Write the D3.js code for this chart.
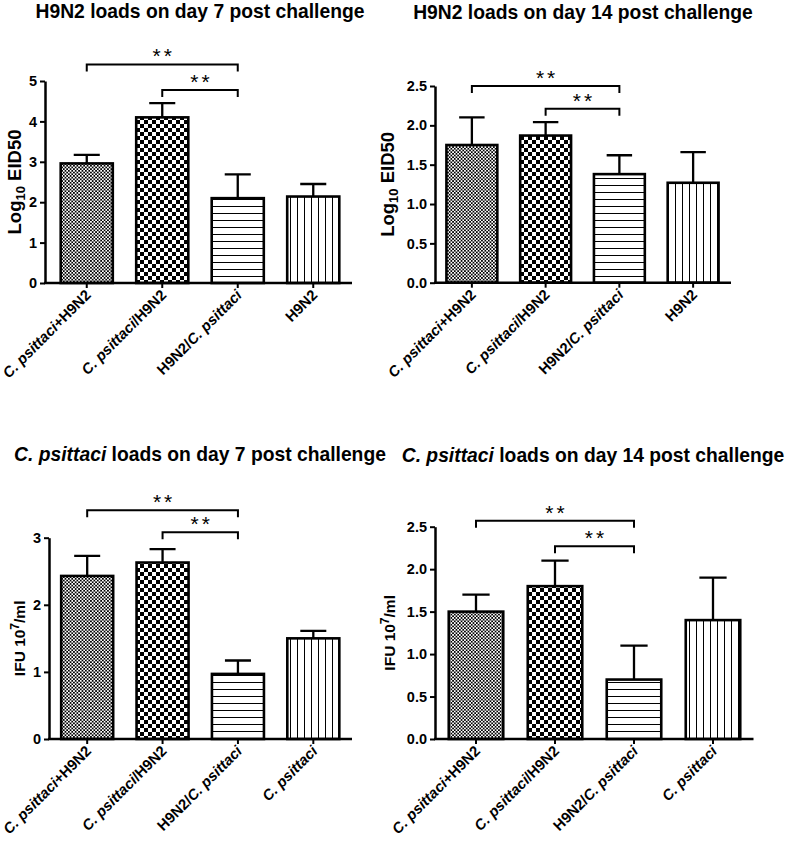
<!DOCTYPE html>
<html>
<head>
<meta charset="utf-8">
<script src="https://cdn.jsdelivr.net/npm/d3@7"></script>
<style>
  body { margin: 0; background: #fff; }
  svg { display: block; font-family: "Liberation Sans", Arial, sans-serif; }
</style>
</head>
<body>
<svg id="viz"></svg>
<script>
// groups on the x axis
const h9n2Groups = ["C. psittaci+H9N2", "C. psittaci/H9N2", "H9N2/C. psittaci", "H9N2"];
const cpsGroups = ["C. psittaci+H9N2", "C. psittaci/H9N2", "H9N2/C. psittaci", "C. psittaci"];

// means and upper error (SEM)
const h9n2Day7 = [2.96, 4.10, 2.10, 2.14];
const h9n2Day7Err = [0.21, 0.35, 0.59, 0.31];
const h9n2Day14 = [1.75, 1.87, 1.38, 1.27];
const h9n2Day14Err = [0.35, 0.17, 0.24, 0.39];
const cpsDay7 = [2.43, 2.63, 0.97, 1.50];
const cpsDay7Err = [0.30, 0.20, 0.20, 0.11];
const cpsDay14 = [1.50, 1.80, 0.70, 1.40];
const cpsDay14Err = [0.20, 0.30, 0.40, 0.50];

// y ticks
const ticksTo5 = [0, 1, 2, 3, 4, 5];
const ticksTo3 = [0, 1, 2, 3];
const ticksTo25 = [0, 0.5, 1.0, 1.5, 2.0, 2.5];

// significance brackets: compared groups, bracket level in axis units
const sigPairs = [[0, 2], [1, 2]];
const sigText = "**";
const h9n2Day7Sig = [5.41, 4.78];
const h9n2Day14Sig = [2.50, 2.21];
const cpsDay7Sig = [3.41, 3.08];
const cpsDay14Sig = [2.57, 2.27];

// titles and axis titles ([normal, shifted, normal])
const titles = [
  "H9N2 loads on day 7 post challenge",
  "H9N2 loads on day 14 post challenge",
  "C. psittaci loads on day 7 post challenge",
  "C. psittaci loads on day 14 post challenge"
];
const h9n2Unit = ["Log", "10", " EID50"];
const cpsUnit = ["IFU 10", "7", "/ml"];

document.addEventListener("DOMContentLoaded", function () {
  const width = 787, height = 848;

  const svg = d3.select("#viz")
      .attr("viewBox", `0 0 ${width} ${height}`)
      .attr("width", width)
      .attr("height", height);

  // fill patterns
  const defs = svg.append("defs");
  function pattern(id, w, h) {
    const p = defs.append("pattern").attr("id", id)
        .attr("patternUnits", "userSpaceOnUse")
        .attr("width", w).attr("height", h);
    p.append("rect").attr("width", w).attr("height", h).attr("fill", "#fff");
    return p;
  }
  const fine = pattern("fineCheck", 3.4, 3.4);
  fine.append("rect").attr("width", 1.7).attr("height", 1.7).attr("fill", "#000");
  fine.append("rect").attr("x", 1.7).attr("y", 1.7).attr("width", 1.7).attr("height", 1.7).attr("fill", "#000");
  const coarse = pattern("coarseCheck", 8, 8);
  coarse.append("rect").attr("width", 4).attr("height", 4).attr("fill", "#000");
  coarse.append("rect").attr("x", 4).attr("y", 4).attr("width", 4).attr("height", 4).attr("fill", "#000");
  pattern("hLines", 8, 7).append("rect").attr("y", 3).attr("width", 8).attr("height", 1).attr("fill", "#000");
  pattern("vLines", 7, 8).append("rect").attr("x", 3).attr("width", 1).attr("height", 8).attr("fill", "#000");
  const fills = ["fineCheck", "coarseCheck", "hLines", "vLines"];

  // layout of the four panels
  const panels = [
    { title: titles[0], groups: h9n2Groups, means: h9n2Day7, errs: h9n2Day7Err, ticks: ticksTo5, fmt: d3.format("d"),
      sig: h9n2Day7Sig, unit: h9n2Unit, sup: false,
      axisX: 45, xRange: [49, 351], yRange: [283, 81], titleX: 200, titleY: 18, unitX: 21 },
    { title: titles[1], groups: h9n2Groups, means: h9n2Day14, errs: h9n2Day14Err, ticks: ticksTo25, fmt: d3.format(".1f"),
      sig: h9n2Day14Sig, unit: h9n2Unit, sup: false,
      axisX: 435, xRange: [435, 730], yRange: [282.7, 86], titleX: 583, titleY: 19, unitX: 394 },
    { title: titles[2], groups: cpsGroups, means: cpsDay7, errs: cpsDay7Err, ticks: ticksTo3, fmt: d3.format("d"),
      sig: cpsDay7Sig, unit: cpsUnit, sup: true,
      axisX: 49, xRange: [49.5, 351], yRange: [739, 537.7], titleX: 200, titleY: 461, unitX: 25 },
    { title: titles[3], groups: cpsGroups, means: cpsDay14, errs: cpsDay14Err, ticks: ticksTo25, fmt: d3.format(".1f"),
      sig: cpsDay14Sig, unit: cpsUnit, sup: true,
      axisX: 435, xRange: [436.5, 752.5], yRange: [739, 526.7], titleX: 593, titleY: 462, unitX: 395 }
  ];

  // text with the species name in italics
  function richText(sel, str) {
    const parts = str.split(/(C\. psittaci)/).filter(s => s.length);
    sel.selectAll("tspan").data(parts).join("tspan")
        .style("font-style", s => s === "C. psittaci" ? "italic" : "normal")
        .text(s => s);
  }

  panels.forEach(p => {
    const g = svg.append("g");
    const x = d3.scaleBand().domain(p.groups).range(p.xRange)
        .paddingInner(0.31).paddingOuter(0.155);
    const y = d3.scaleLinear().domain([0, d3.max(p.ticks)]).range(p.yRange);
    const rows = p.groups.map((name, i) => ({ name, i, mean: p.means[i], err: p.errs[i] }));
    const cx = name => x(name) + x.bandwidth() / 2;
    const y0 = y(0);

    // bars
    g.append("g").selectAll("rect").data(rows).join("rect")
        .attr("x", d => x(d.name))
        .attr("y", d => y(d.mean))
        .attr("width", x.bandwidth())
        .attr("height", d => y0 - y(d.mean))
        .attr("fill", d => `url(#${fills[d.i]})`)
        .attr("stroke", "#000")
        .attr("stroke-width", 2.6);

    // error bars (upper only)
    const cap = x.bandwidth() / 4;
    g.append("g").selectAll("path").data(rows).join("path")
        .attr("d", d => `M${cx(d.name)},${y(d.mean)}V${y(d.mean + d.err)}` +
                        `M${cx(d.name) - cap},${y(d.mean + d.err)}H${cx(d.name) + cap}`)
        .attr("fill", "none")
        .attr("stroke", "#000")
        .attr("stroke-width", 2.3);

    // y axis
    const yAxis = g.append("g")
        .attr("transform", `translate(${p.axisX},0)`)
        .call(d3.axisLeft(y).tickValues(p.ticks).tickFormat(p.fmt)
          .tickSize(5).tickSizeOuter(0).tickPadding(3));
    yAxis.select(".domain").attr("stroke-width", 2.5);
    yAxis.selectAll(".tick line").attr("stroke-width", 2);
    yAxis.selectAll("text")
        .attr("fill", "#000")
        .style("font", "bold 14.5px 'Liberation Sans', Arial, sans-serif");

    // x axis
    g.append("line")
        .attr("x1", p.axisX - 1).attr("x2", p.xRange[1] + 1)
        .attr("y1", y0).attr("y2", y0)
        .attr("stroke", "#000").attr("stroke-width", 2.5);
    g.append("g").selectAll("line").data(rows).join("line")
        .attr("x1", d => cx(d.name)).attr("x2", d => cx(d.name))
        .attr("y1", y0).attr("y2", y0 + 5)
        .attr("stroke", "#000").attr("stroke-width", 2);
    g.append("g").selectAll("text").data(rows).join("text")
        .attr("transform", d => `translate(${cx(d.name) + 5},${y0 + 13}) rotate(-45)`)
        .attr("text-anchor", "end")
        .style("font", "bold 14.8px 'Liberation Sans', Arial, sans-serif")
        .each(function (d) { richText(d3.select(this), d.name); });

    // significance brackets
    const sig = sigPairs.map((pair, k) => ({ a: p.groups[pair[0]], b: p.groups[pair[1]], level: p.sig[k] }));
    g.append("g").selectAll("path").data(sig).join("path")
        .attr("d", d => `M${cx(d.a)},${y(d.level) + 7}V${y(d.level)}H${cx(d.b)}V${y(d.level) + 7}`)
        .attr("fill", "none")
        .attr("stroke", "#000")
        .attr("stroke-width", 2);
    g.append("g").selectAll("text").data(sig).join("text")
        .attr("x", d => (cx(d.a) + cx(d.b)) / 2 + 1.5)
        .attr("y", d => y(d.level) - 1)
        .attr("text-anchor", "middle")
        .attr("letter-spacing", 3)
        .style("font", "21px 'Liberation Sans', Arial, sans-serif")
        .text(sigText);

    // title
    g.append("text")
        .attr("x", p.titleX).attr("y", p.titleY)
        .attr("text-anchor", "middle")
        .style("font", "bold 19.3px 'Liberation Sans', Arial, sans-serif")
        .call(richText, p.title);

    // y axis title with sub/superscript
    const shift = p.sup ? -6 : 4;
    const unit = g.append("text")
        .attr("transform", `translate(${p.unitX},${(p.yRange[0] + p.yRange[1]) / 2}) rotate(-90)`)
        .attr("text-anchor", "middle")
        .style("font", `bold ${p.sup ? 15.5 : 18.5}px 'Liberation Sans', Arial, sans-serif`);
    unit.append("tspan").text(p.unit[0]);
    unit.append("tspan").attr("dy", shift).style("font-size", p.sup ? "12px" : "13px").text(p.unit[1]);
    unit.append("tspan").attr("dy", -shift).text(p.unit[2]);
  });
});
</script>
</body>
</html>
